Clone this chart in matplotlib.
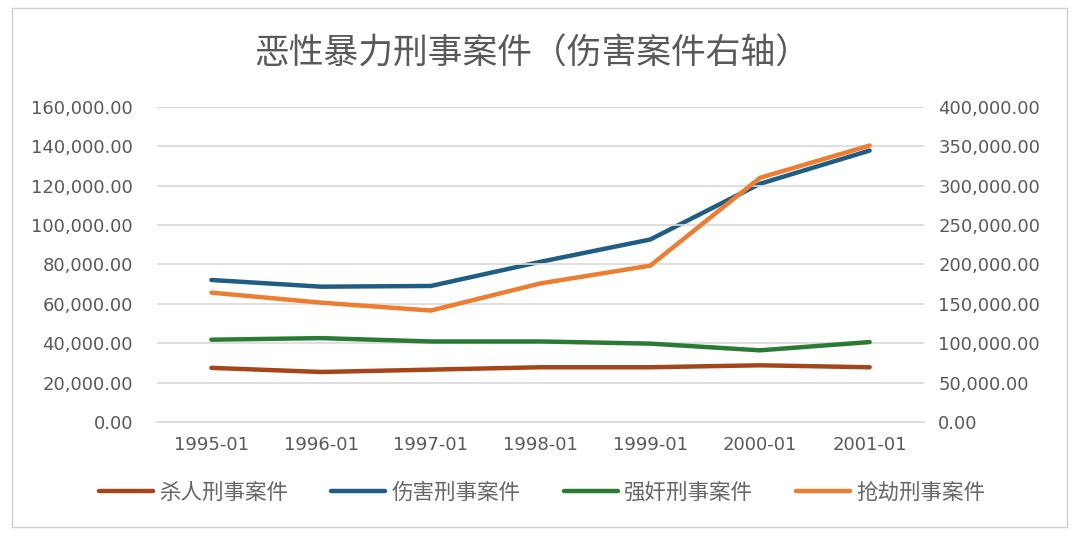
import matplotlib
matplotlib.use("Agg")
import matplotlib.pyplot as plt
from matplotlib.patches import Rectangle
from matplotlib.ticker import FuncFormatter, MultipleLocator

plt.rcParams['font.family'] = ['Noto Sans CJK SC', 'DejaVu Sans']

years = ["1995-01", "1996-01", "1997-01", "1998-01", "1999-01", "2000-01", "2001-01"]
# 杀人 / 强奸 / 抢劫 on the left axis, 伤害 on the right axis
murder = [27500, 25400, 26600, 27800, 27800, 28800, 27800]
injury = [180300, 171800, 172700, 203400, 231700, 302400, 344600]
rape = [41800, 42600, 40900, 40900, 39800, 36400, 40600]
robbery = [65700, 60600, 56600, 70400, 79400, 124000, 140400]

names = ["杀人刑事案件", "伤害刑事案件", "强奸刑事案件", "抢劫刑事案件"]
colors = ["#a5461a", "#1f5d84", "#2b7a33", "#ed7d31"]
txt = "#595959"
grid = "#d9d9d9"

fig = plt.figure(figsize=(10.8, 5.4), dpi=100)
fig.patches.append(Rectangle((12 / 1080, 13 / 540), 1055 / 1080, 519 / 540,
                             transform=fig.transFigure, fill=False,
                             edgecolor="#d0d0d0", linewidth=1))

ax = fig.add_axes([0.145, 0.2185, 0.711, 0.5835])
ax2 = ax.twinx()

x = list(range(len(years)))
l1, = ax.plot(x, murder, color=colors[0], lw=3.2, solid_capstyle="round")
l3, = ax.plot(x, rape, color=colors[2], lw=3.2, solid_capstyle="round")
l4, = ax.plot(x, robbery, color=colors[3], lw=3.2, solid_capstyle="round")
l2, = ax2.plot(x, injury, color=colors[1], lw=3.2, solid_capstyle="round")
ax.set_zorder(ax2.get_zorder() + 1)
ax.patch.set_visible(False)

ax.set_xlim(-0.5, len(years) - 0.5)
ax.set_ylim(0, 160000)
ax2.set_ylim(0, 400000)
ax.yaxis.set_major_locator(MultipleLocator(20000))
ax2.yaxis.set_major_locator(MultipleLocator(50000))
fmt = FuncFormatter(lambda v, p: f"{v:,.2f}")
ax.yaxis.set_major_formatter(fmt)
ax2.yaxis.set_major_formatter(fmt)
ax.set_xticks(x)
ax.set_xticklabels(years)

ax2.grid(False)
ax.grid(axis="y", color=grid, lw=1.2)
ax.set_axisbelow(True)
for a in (ax, ax2):
    for s in a.spines.values():
        s.set_visible(False)
    a.tick_params(length=0, labelsize=13, labelcolor=txt)
    for lab in a.get_xticklabels() + a.get_yticklabels():
        lab.set_family("DejaVu Sans")
ax.tick_params(axis="y", pad=17)
ax2.tick_params(axis="y", pad=10)
ax.tick_params(axis="x", pad=10)
ax.spines["bottom"].set_visible(True)
ax.spines["bottom"].set_color(grid)
ax.spines["bottom"].set_linewidth(1.2)

fig.text(0.493, 0.9, "恶性暴力刑事案件（伤害案件右轴）", ha="center", va="center",
         fontsize=25, color=txt)

fig.legend([l1, l2, l3, l4], names, loc="center", bbox_to_anchor=(0.502, 0.087),
           ncol=4, frameon=False, fontsize=15.5, labelcolor="#666666",
           handlelength=2.5, handletextpad=0.3, columnspacing=2.0)

fig.savefig("out.png", dpi=100)
